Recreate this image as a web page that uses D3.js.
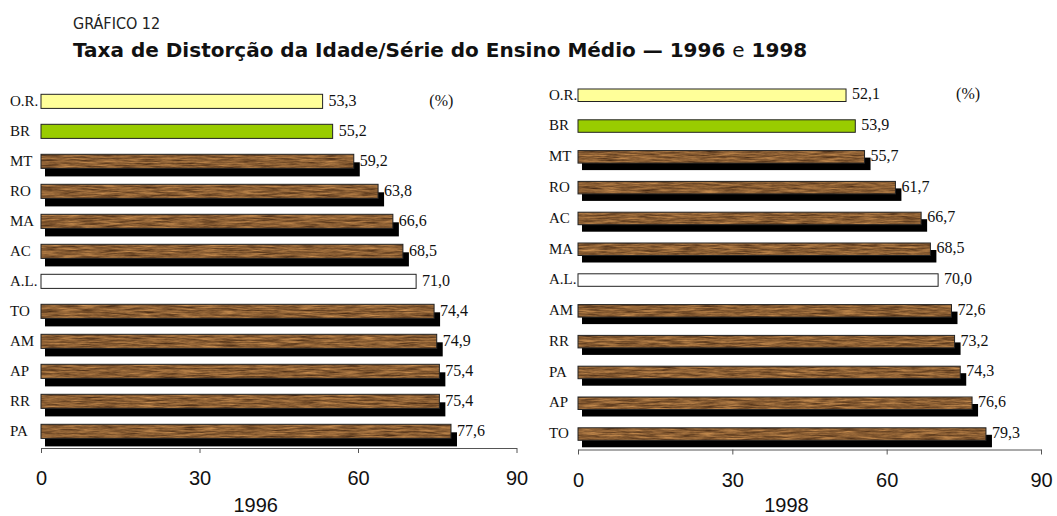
<!DOCTYPE html>
<html>
<head>
<meta charset="utf-8">
<script src="https://cdn.jsdelivr.net/npm/d3@7"></script>
<style>
  body { margin: 0; background: #fff; }
  svg { display: block; }
  .cat_label { font-family: "Liberation Serif", "Times New Roman", serif; font-size: 15px; fill: #111; }
  .val_label { font-family: "Liberation Serif", "Times New Roman", serif; font-size: 16px; fill: #111; }
  .tick text { font-family: "Liberation Sans", Arial, sans-serif; font-size: 20px; fill: #111; }
  .year_label { font-family: "Liberation Sans", Arial, sans-serif; font-size: 20px; fill: #111; }
</style>
</head>
<body>
<svg id="chart" width="1057" height="516"></svg>
<script>
'use strict';

// values
var categories_1996 = ["O.R.", "BR", "MT", "RO", "MA", "AC", "A.L.", "TO", "AM", "AP", "RR", "PA"];
var values_1996 = [53.3, 55.2, 59.2, 63.8, 66.6, 68.5, 71.0, 74.4, 74.9, 75.4, 75.4, 77.6];

var categories_1998 = ["O.R.", "BR", "MT", "RO", "AC", "MA", "A.L.", "AM", "RR", "PA", "AP", "TO"];
var values_1998 = [52.1, 53.9, 55.7, 61.7, 66.7, 68.5, 70.0, 72.6, 73.2, 74.3, 76.6, 79.3];

var axis_ticks = [0, 30, 60, 90];
var year_labels = ["1996", "1998"];

var title_small = "GRÁFICO 12";
var title_main = "Taxa de Distorção da Idade/Série do Ensino Médio — 1996 ";
var title_tail = ["e", " 1998"];

// regions get a flat colour, the states get the wood texture
var flat_fills = { "O.R.": "#ffff99", "BR": "#99cc00", "A.L.": "#ffffff" };

var pt_br = d3.formatLocale({ decimal: ",", thousands: ".", grouping: [3], currency: ["R$", ""] });
var fmt = pt_br.format(".1f");

var svg = d3.select("#chart");
var defs = svg.append("defs");

// brownish grain, kept low in contrast
var noise = defs.append("filter")
    .attr("id", "wood_noise")
    .attr("x", 0).attr("y", 0).attr("width", 1).attr("height", 1)
    .attr("color-interpolation-filters", "sRGB");
noise.append("feTurbulence")
    .attr("type", "fractalNoise")
    .attr("baseFrequency", "0.05 0.6")
    .attr("numOctaves", 4)
    .attr("seed", 7)
    .attr("result", "n");
noise.append("feColorMatrix")
    .attr("in", "n")
    .attr("type", "matrix")
    .attr("values", "0.65 0 0 0 0.22  0.5 0 0 0 0.12  0.3 0 0 0 0.05  0 0 0 0 1")
    .attr("result", "c");
noise.append("feComposite")
    .attr("in", "c")
    .attr("in2", "SourceGraphic")
    .attr("operator", "in");

defs.append("pattern")
    .attr("id", "wood")
    .attr("patternUnits", "userSpaceOnUse")
    .attr("width", 1057).attr("height", 516)
  .append("rect")
    .attr("width", 1057).attr("height", 516)
    .attr("fill", "#000")
    .attr("filter", "url(#wood_noise)");

// titles
svg.append("text")
    .attr("x", 73).attr("y", 29)
    .style("font-family", "'Liberation Sans Narrow', 'DejaVu Sans Condensed', 'Liberation Sans', sans-serif")
    .style("font-size", "16px")
    .style("fill", "#222")
    .text(title_small);

var title = svg.append("text")
    .attr("x", 73).attr("y", 56.5)
    .style("font-family", "'DejaVu Sans', sans-serif")
    .style("font-size", "20px")
    .style("font-weight", "700")
    .style("fill", "#111");
title.append("tspan").text(title_main);
title.append("tspan").style("font-weight", "400").text(title_tail[0]);
title.append("tspan").text(title_tail[1]);

function draw_panel(cats, vals, year, opt) {
  var x = d3.scaleLinear().domain([0, 90]).range([opt.x0, opt.x1]);
  var y = d3.scaleBand().domain(cats).range([opt.y0, opt.y1])
      .paddingInner(opt.pad).paddingOuter(0.25);
  var bw = y.bandwidth();
  var shadow_dy = Math.round(bw * 0.57);

  var g = svg.append("g");

  var rows = g.selectAll(".row")
      .data(cats.map(function(c, i) { return { cat: c, val: vals[i] }; }))
    .enter().append("g")
      .attr("class", "row");

  // black drop shadow only under the textured bars
  rows.filter(function(d) { return !flat_fills[d.cat]; })
    .append("rect")
      .attr("x", x(0) + 4)
      .attr("y", function(d) { return y(d.cat) + shadow_dy; })
      .attr("width", function(d) { return x(d.val) - x(0) + 2; })
      .attr("height", bw)
      .attr("fill", "#000");

  rows.append("rect")
      .attr("x", x(0))
      .attr("y", function(d) { return y(d.cat); })
      .attr("width", function(d) { return x(d.val) - x(0); })
      .attr("height", bw)
      .attr("fill", function(d) { return flat_fills[d.cat] || "url(#wood)"; })
      .attr("stroke", "#222")
      .attr("stroke-width", 1);

  rows.append("text")
      .attr("class", "cat_label")
      .attr("x", opt.label_x)
      .attr("y", function(d) { return y(d.cat) + bw * 0.84; })
      .text(function(d) { return d.cat; });

  rows.append("text")
      .attr("class", "val_label")
      .attr("x", function(d) { return x(d.val) + 6; })
      .attr("y", function(d) { return y(d.cat) + bw * 0.82; })
      .text(function(d) { return fmt(d.val); });

  g.append("text")
      .attr("class", "val_label")
      .attr("x", x(73.5))
      .attr("y", y(cats[0]) + bw * 0.82)
      .text("(%)");

  var axis = d3.axisBottom(x)
      .tickValues(axis_ticks)
      .tickSize(5)
      .tickSizeOuter(0)
      .tickPadding(18)
      .tickFormat(d3.format("d"));

  var ax = g.append("g")
      .attr("transform", "translate(0," + opt.axis_y + ")")
      .call(axis);
  ax.select(".domain").attr("stroke", "#555");
  ax.selectAll(".tick line").attr("stroke", "#555");

  g.append("text")
      .attr("class", "year_label")
      .attr("x", (opt.x0 + opt.x1) / 2 - 23)
      .attr("y", 512)
      .attr("text-anchor", "middle")
      .text(year);
}

draw_panel(categories_1996, values_1996, year_labels[0],
  { x0: 41, x1: 516.5, y0: 86.8, y1: 445.9, pad: 0.53, axis_y: 448, label_x: 10 });
draw_panel(categories_1998, values_1998, year_labels[1],
  { x0: 578, x1: 1041, y0: 81.3, y1: 448, pad: 0.594, axis_y: 449.5, label_x: 549 });
</script>
</body>
</html>
